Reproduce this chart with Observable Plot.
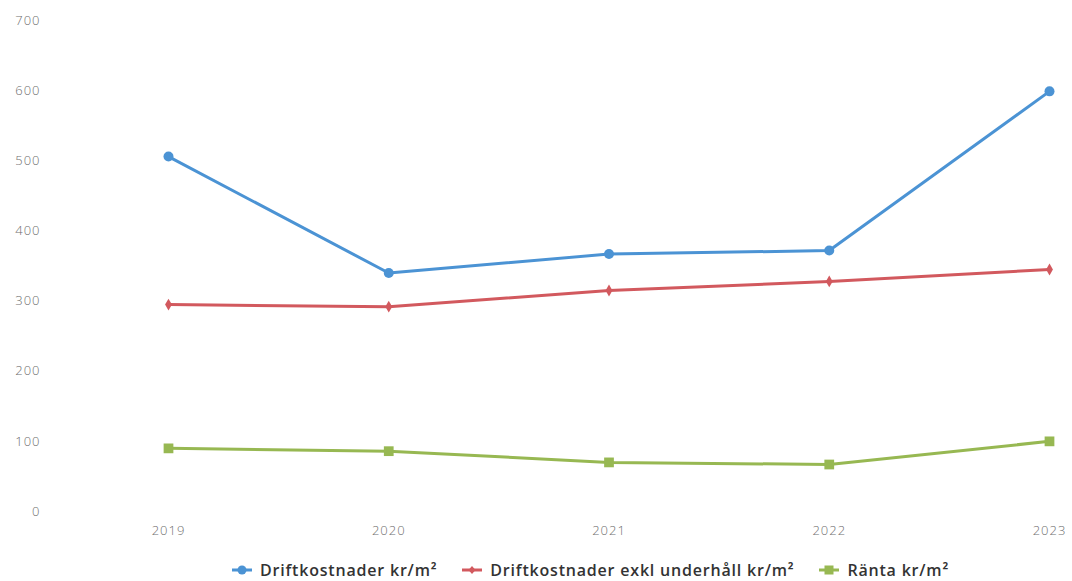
<!DOCTYPE html>
<html>
<head>
<meta charset="utf-8">
<script src="https://cdn.jsdelivr.net/npm/d3@7"></script>
<script src="https://cdn.jsdelivr.net/npm/@observablehq/plot@0.6"></script>
<style>
  html, body { margin: 0; padding: 0; background: #fff; }
  #chart { width: 1072px; height: 545px; }
  .legend { display: flex; justify-content: center; gap: 24px; font-family: "Open Sans", sans-serif; font-size: 16px; font-weight: 600; color: #333; letter-spacing: 0.8px; margin-left: 108px; margin-top: 14px; }
  .legend span.item { display: inline-flex; align-items: center; gap: 7px; }
</style>
</head>
<body>
<div id="chart"></div>
<script>
const years = [2019, 2020, 2021, 2022, 2023];
const drift = [506, 340, 367, 372, 599];
const driftExkl = [295, 292, 315, 328, 345];
const ranta = [90, 86, 70, 67, 100];
const seriesNames = ["Driftkostnader kr/m²", "Driftkostnader exkl underhåll kr/m²", "Ränta kr/m²"];
const seriesColors = ["#4b93d4", "#d2595e", "#97b852"];
const seriesSymbols = ["circle", "diamond", "square"];
const seriesSizes = [5, 3.6, 5.5];
const yTicks = [0, 100, 200, 300, 400, 500, 600, 700];

const allValues = [drift, driftExkl, ranta];
const rows = [];
allValues.forEach((vals, s) => years.forEach((yr, i) => rows.push({year: yr, value: vals[i], series: seriesNames[s]})));

const marks = [];
seriesNames.forEach((name, s) => {
  const d = rows.filter(r => r.series === name);
  marks.push(Plot.line(d, {x: "year", y: "value", stroke: seriesColors[s], strokeWidth: 3}));
  marks.push(Plot.dot(d, {x: "year", y: "value", fill: seriesColors[s], symbol: () => seriesSymbols[s], r: seriesSizes[s]}));
});

const plot = Plot.plot({
  width: 1072,
  height: 545,
  marginLeft: 168,
  marginRight: 23,
  marginTop: 20,
  marginBottom: 34,
  style: {fontFamily: "Open Sans, sans-serif", fontSize: "13px", color: "#6f6f6f", background: "#fff"},
  x: {domain: [2019, 2023], ticks: years, tickFormat: d => String(d), tickSize: 0, tickPadding: 14, label: null},
  y: {domain: [0, 700], ticks: yTicks, tickSize: 0, tickPadding: 128, label: null},
  marks
});
plot.querySelectorAll("text").forEach(t => { t.setAttribute("letter-spacing", "1"); t.setAttribute("font-weight", "300"); });
document.getElementById("chart").appendChild(plot);

const legend = document.createElement("div");
legend.className = "legend";
seriesNames.forEach((name, s) => {
  const item = document.createElement("span");
  item.className = "item";
  const sym = seriesSymbols[s];
  let shape;
  if (sym === "circle") shape = `<circle cx="11" cy="7" r="4.5" fill="${seriesColors[s]}"/>`;
  else if (sym === "diamond") shape = `<path d="M11 3 L14.5 7 L11 11 L7.5 7 Z" fill="${seriesColors[s]}"/>`;
  else shape = `<rect x="6.5" y="2.5" width="9" height="9" fill="${seriesColors[s]}"/>`;
  item.innerHTML = `<svg width="22" height="14"><line x1="1" x2="21" y1="7" y2="7" stroke="${seriesColors[s]}" stroke-width="3"/>${shape}</svg><span>${name}</span>`;
  legend.appendChild(item);
});
document.body.appendChild(legend);
</script>
</body>
</html>
